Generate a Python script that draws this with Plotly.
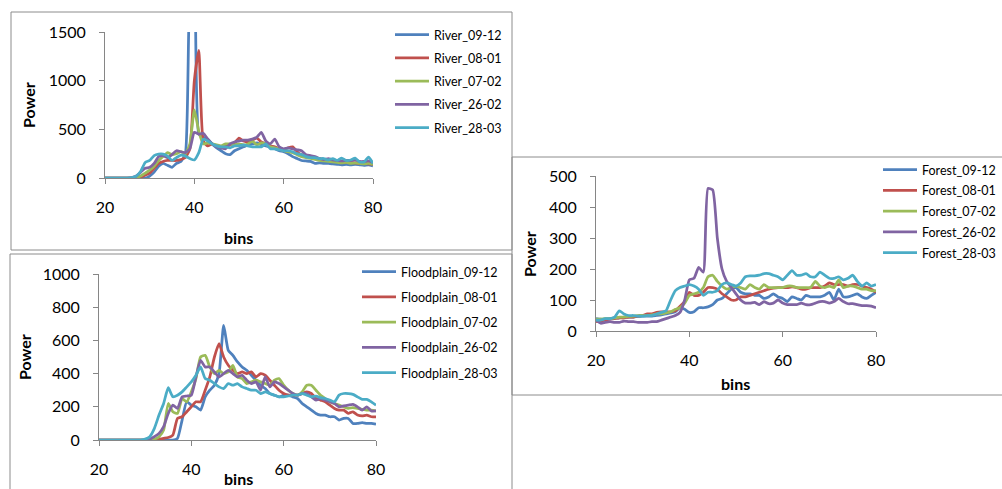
import plotly.graph_objects as go

# ---- data -------------------------------------------------------------
bins = list(range(20, 81))

dates = ["09-12", "08-01", "07-02", "26-02", "28-03"]
colors = ["#4F81BD", "#C0504D", "#9BBB59", "#8064A2", "#4BACC6"]

river_09_12 = [0, 0, 0, 0, 0, 0, 0, 0, 0, 0, 20, 60, 120, 150, 130, 110, 150, 170, 250, 1900,
               2100, 450, 420, 400, 350, 310, 280, 250, 240, 280, 300, 320, 340, 350, 360, 340, 330, 320, 300, 280,
               270, 250, 220, 200, 180, 175, 170, 150, 155, 150, 150, 145, 140, 135, 140, 135, 140, 135, 130, 135, 125]
river_08_01 = [0, 0, 0, 0, 0, 0, 0, 0, 10, 30, 50, 100, 150, 170, 180, 180, 180, 190, 210, 300,
               1000, 1310, 380, 330, 350, 330, 310, 330, 340, 360, 410, 380, 370, 390, 410, 370, 350, 330, 320, 300,
               290, 310, 320, 270, 240, 230, 220, 210, 200, 190, 180, 170, 170, 165, 160, 160, 155, 150, 150, 145, 140]
river_07_02 = [0, 0, 0, 0, 0, 0, 0, 5, 20, 50, 80, 120, 180, 220, 260, 240, 250, 270, 250, 350,
               700, 480, 350, 360, 350, 340, 330, 350, 350, 340, 350, 340, 350, 380, 340, 360, 350, 320, 310, 300,
               280, 270, 260, 240, 220, 210, 200, 190, 180, 175, 170, 165, 160, 155, 160, 150, 155, 150, 145, 150, 140]
river_26_02 = [0, 0, 0, 0, 0, 0, 5, 20, 60, 100, 110, 150, 220, 230, 210, 240, 280, 270, 260, 300,
               470, 450, 460, 400, 350, 320, 310, 300, 350, 370, 380, 390, 390, 400, 420, 470, 380, 350, 400, 320,
               300, 310, 300, 290, 280, 240, 230, 220, 200, 190, 200, 185, 180, 175, 180, 180, 185, 170, 170, 175, 160]
river_28_03 = [0, 0, 0, 0, 0, 0, 5, 20, 70, 160, 180, 230, 245, 245, 225, 180, 210, 235, 225, 200,
               185, 260, 400, 380, 350, 330, 320, 320, 310, 330, 330, 340, 330, 320, 320, 320, 350, 300, 300, 290,
               280, 280, 270, 250, 240, 220, 210, 210, 200, 200, 185, 200, 180, 205, 180, 185, 205, 165, 165, 215, 150]

flood_09_12 = [0, 0, 0, 0, 0, 0, 0, 0, 0, 0, 0, 0, 0, 0, 0, 0, 0, 10, 120, 230,
               210, 200, 180, 260, 300, 330, 400, 690, 540, 510, 470, 440, 420, 390, 360, 330, 310, 280, 270, 260,
               270, 270, 260, 250, 220, 200, 180, 160, 150, 150, 140, 140, 120, 130, 130, 100, 100, 105, 100, 100, 95]
flood_08_01 = [0, 0, 0, 0, 0, 0, 0, 0, 0, 0, 0, 0, 0, 5, 10, 15, 30, 130, 140, 170,
               200, 230, 230, 300, 380, 500, 580, 500, 450, 420, 400, 410, 400, 410, 380, 400, 390, 360, 330, 300,
               280, 270, 270, 270, 280, 290, 280, 250, 240, 230, 210, 190, 180, 180, 160, 170, 150, 145, 150, 140, 140]
flood_07_02 = [0, 0, 0, 0, 0, 0, 0, 0, 0, 0, 0, 0, 5, 20, 60, 220, 170, 160, 250, 230,
               290, 370, 500, 510, 440, 400, 420, 400, 410, 450, 380, 370, 340, 350, 360, 350, 340, 330, 360, 370,
               330, 300, 280, 270, 290, 330, 330, 300, 270, 250, 230, 220, 210, 200, 190, 195, 190, 185, 180, 180, 175]
flood_26_02 = [0, 0, 0, 0, 0, 0, 0, 0, 0, 0, 0, 5, 20, 40, 80, 160, 210, 190, 260, 265,
               270, 380, 480, 440, 440, 410, 380, 400, 420, 400, 380, 390, 360, 340, 350, 300, 380, 320, 350, 340,
               320, 300, 280, 270, 280, 280, 260, 240, 250, 240, 230, 220, 200, 205, 210, 215, 200, 180, 200, 175, 175]
flood_28_03 = [0, 0, 0, 0, 0, 0, 0, 0, 0, 0, 5, 20, 70, 150, 220, 315, 260, 270, 290, 320,
               350, 390, 440, 370, 360, 340, 320, 310, 340, 330, 340, 320, 310, 300, 300, 280, 290, 280, 270, 260,
               260, 265, 270, 270, 280, 270, 260, 265, 255, 250, 240, 230, 270, 280, 280, 275, 260, 245, 245, 230, 210]

forest_09_12 = [40, 38, 38, 40, 42, 42, 45, 45, 45, 47, 48, 48, 48, 50, 52, 55, 58, 62, 75, 70,
                60, 62, 75, 75, 78, 85, 100, 105, 120, 135, 140, 125, 120, 120, 115, 115, 105, 110, 120, 110,
                105, 95, 110, 105, 100, 115, 110, 110, 110, 115, 125, 100, 135, 110, 110, 115, 120, 110, 105, 115, 125]
forest_08_01 = [30, 32, 35, 38, 40, 42, 42, 45, 45, 48, 50, 55, 55, 60, 62, 62, 62, 65, 80, 95,
                125, 115, 115, 125, 140, 140, 135, 120, 110, 100, 100, 110, 110, 115, 120, 125, 130, 135, 138, 140,
                140, 140, 142, 140, 135, 135, 140, 140, 140, 145, 155, 150, 150, 150, 145, 150, 150, 145, 140, 135, 125]
forest_07_02 = [38, 38, 40, 40, 42, 45, 45, 47, 48, 50, 50, 50, 52, 55, 55, 58, 62, 70, 75, 90,
                115, 120, 125, 140, 175, 180, 160, 145, 135, 140, 145, 140, 135, 150, 140, 135, 150, 140, 140, 140,
                140, 145, 145, 140, 140, 140, 140, 160, 145, 140, 145, 140, 165, 140, 145, 145, 140, 135, 135, 130, 130]
forest_26_02 = [35, 25, 28, 30, 28, 28, 32, 30, 30, 28, 28, 28, 30, 30, 35, 40, 45, 50, 60, 100,
                165, 170, 205, 190, 460, 455, 300, 200, 160, 140, 120, 100, 90, 90, 92, 85, 95, 88, 90, 100,
                90, 85, 85, 85, 90, 85, 85, 90, 95, 95, 90, 95, 105, 95, 88, 88, 85, 82, 82, 80, 75]
forest_28_03 = [35, 35, 40, 40, 45, 65, 55, 50, 50, 48, 48, 50, 50, 55, 60, 65, 100, 130, 140, 145,
                150, 145, 135, 115, 125, 125, 130, 150, 155, 150, 145, 155, 175, 178, 178, 180, 185, 185, 180, 175,
                165, 180, 195, 180, 180, 185, 175, 175, 190, 180, 170, 170, 175, 165, 170, 180, 160, 145, 155, 145, 150]

river_series = [river_09_12, river_08_01, river_07_02, river_26_02, river_28_03]
flood_series = [flood_09_12, flood_08_01, flood_07_02, flood_26_02, flood_28_03]
forest_series = [forest_09_12, forest_08_01, forest_07_02, forest_26_02, forest_28_03]

river_yticks = [0, 500, 1000, 1500]
flood_yticks = [0, 200, 400, 600, 800, 1000]
forest_yticks = [0, 100, 200, 300, 400, 500]
x_ticks = [20, 40, 60, 80]

# ---- figure geometry (pixels) ----------------------------------------
W, H = 1002, 489


def px(x):
    return x / W


def py(y):
    return 1 - y / H


FONT = "Lato, Calibri, Arial, sans-serif"
AXIS_GREY = "#868686"

panels = [
    dict(prefix="River", series=river_series, yticks=river_yticks, sfx="",
         box=(105, 373, 32, 178), legend="legend"),
    dict(prefix="Floodplain", series=flood_series, yticks=flood_yticks, sfx="2",
         box=(99, 376, 274, 440), legend="legend2"),
    dict(prefix="Forest", series=forest_series, yticks=forest_yticks, sfx="3",
         box=(596, 876, 176, 331), legend="legend3"),
]

fig = go.Figure()

for p in panels:
    for d, c, vals in zip(dates, colors, p["series"]):
        name = f"{p['prefix']}_{d}"
        fig.add_trace(go.Scatter(
            x=bins, y=vals, mode="lines", name=name,
            legendgroup=name, legend=p["legend"],
            xaxis="x" + p["sfx"], yaxis="y" + p["sfx"],
            line=dict(color=c, width=2.75, shape="spline", smoothing=0.5),
            hoverinfo="x+y+name",
        ))

axis_common = dict(
    showline=True, linecolor=AXIS_GREY, linewidth=1,
    ticks="outside", ticklen=5, tickcolor=AXIS_GREY, tickwidth=1,
    showgrid=False, zeroline=False,
    tickfont=dict(family=FONT, size=16, color="#000000"),
)

layout = dict(
    width=W, height=H,
    margin=dict(l=0, r=0, t=0, b=0, autoexpand=False),
    paper_bgcolor="white", plot_bgcolor="rgba(0,0,0,0)",
    showlegend=True,
)

for p in panels:
    l, r, t, b = p["box"]
    yt = p["yticks"]
    layout["xaxis" + p["sfx"]] = dict(
        axis_common, domain=[px(l), px(r)], range=[20, 80],
        tickvals=x_ticks, anchor="y" + p["sfx"], ticklabelstandoff=10,
    )
    layout["yaxis" + p["sfx"]] = dict(
        axis_common, domain=[py(b), py(t)], range=[yt[0], yt[-1]],
        tickvals=yt, anchor="x" + p["sfx"], ticklabelstandoff=10,
    )

legend_common = dict(
    xanchor="left", yanchor="top", bgcolor="rgba(0,0,0,0)", borderwidth=0,
    font=dict(family=FONT, size=12.5, color="#000000"),
    itemwidth=34, traceorder="grouped",
)
layout["legend"] = dict(legend_common, x=px(390), y=py(20), tracegroupgap=4)
layout["legend2"] = dict(legend_common, x=px(357), y=py(257), tracegroupgap=6)
layout["legend3"] = dict(legend_common, x=px(878), y=py(155), tracegroupgap=1.5)

fig.update_layout(**layout)

# chart-area frames
frames = [(11, 512, 12, 250), (10, 512, 254, 520), (512, 1020, 157, 395)]
for x0, x1, y0, y1 in frames:
    fig.add_shape(type="rect", xref="paper", yref="paper",
                  x0=px(x0), x1=px(x1), y0=py(y0), y1=py(y1),
                  line=dict(color="#8C8C8C", width=1), layer="below")

# axis titles
titles = [
    ("Power", 29, 105, -90), ("bins", 238, 237, 0),
    ("Power", 24, 357, -90), ("bins", 238, 478, 0),
    ("Power", 529, 254, -90), ("bins", 735, 383, 0),
]
for text, x, y, ang in titles:
    fig.add_annotation(text=f"<b>{text}</b>", x=px(x), y=py(y), xref="paper", yref="paper",
                       showarrow=False, textangle=ang, xanchor="center", yanchor="middle",
                       font=dict(family=FONT, size=16, color="#000000"))

fig.write_html("out.html")
